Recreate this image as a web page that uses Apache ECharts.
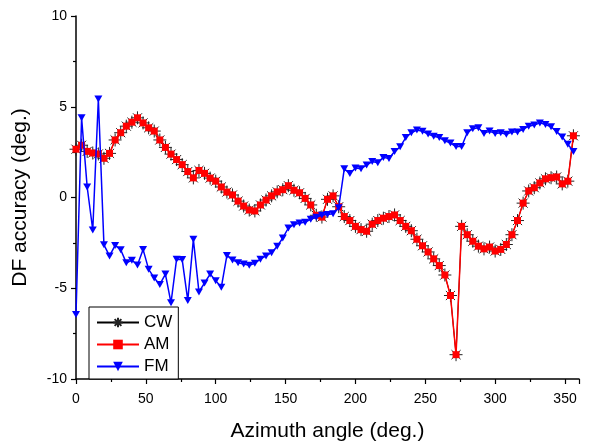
<!DOCTYPE html>
<html>
<head>
<meta charset="utf-8">
<script src="https://cdn.jsdelivr.net/npm/echarts@6/dist/echarts.min.js"></script>
<style>
html,body{margin:0;padding:0;background:#fff;}
#chart{width:589px;height:447px;}
</style>
</head>
<body>
<div id="chart"></div>
<script>
// Azimuth angles (deg.)
const angles = [];
for (let a = 0; a <= 356; a += 4) angles.push(a);

const cwValues = [
  2.66, 2.88, 2.54, 2.45, 2.40, 2.16, 2.43, 3.17, 3.57, 3.93,
  4.15, 4.39, 4.11, 3.84, 3.66, 3.17, 2.76, 2.39, 2.09, 1.81,
  1.43, 1.08, 1.49, 1.33, 1.07, 0.90, 0.58, 0.30, 0.14, -0.20,
  -0.47, -0.69, -0.74, -0.41, -0.14, 0.09, 0.31, 0.43, 0.65, 0.40,
  0.26, -0.05, -0.41, -0.98, -1.08, -0.10, 0.09, -0.51, -1.05, -1.27,
  -1.59, -1.77, -1.86, -1.47, -1.27, -1.14, -1.05, -0.96, -1.27, -1.59,
  -1.83, -2.30, -2.66, -3.00, -3.38, -3.75, -4.27, -5.40, -8.66, -1.59,
  -2.05, -2.41, -2.68, -2.83, -2.73, -2.95, -2.86, -2.59, -2.05, -1.27,
  -0.31, 0.36, 0.54, 0.80, 1.03, 1.09, 1.13, 0.75, 0.90, 3.40
];

const amValues = [
  2.66, 2.88, 2.54, 2.45, 2.40, 2.16, 2.43, 3.17, 3.57, 3.93,
  4.15, 4.39, 4.11, 3.84, 3.66, 3.17, 2.76, 2.39, 2.09, 1.81,
  1.43, 1.08, 1.49, 1.33, 1.07, 0.90, 0.58, 0.30, 0.14, -0.20,
  -0.47, -0.69, -0.74, -0.41, -0.14, 0.09, 0.31, 0.43, 0.65, 0.40,
  0.26, -0.05, -0.41, -0.98, -1.08, -0.10, 0.09, -0.51, -1.05, -1.27,
  -1.59, -1.77, -1.86, -1.47, -1.27, -1.14, -1.05, -0.96, -1.27, -1.59,
  -1.83, -2.30, -2.66, -3.00, -3.38, -3.75, -4.27, -5.40, -8.66, -1.59,
  -2.05, -2.41, -2.68, -2.83, -2.73, -2.95, -2.86, -2.59, -2.05, -1.27,
  -0.31, 0.36, 0.54, 0.80, 1.03, 1.09, 1.13, 0.75, 0.90, 3.40
];

const fmValues = [
  -6.45, 4.39, 0.58, -1.79, 5.43, -2.61, -3.22, -2.64, -2.88, -3.60,
  -3.46, -3.72, -2.86, -3.96, -4.43, -4.79, -4.22, -5.80, -3.40, -3.42,
  -5.67, -2.30, -5.20, -4.71, -4.22, -4.58, -4.95, -3.19, -3.44, -3.59,
  -3.67, -3.73, -3.62, -3.40, -3.22, -3.04, -2.68, -2.23, -1.68, -1.50,
  -1.41, -1.36, -1.20, -1.09, -0.98, -0.93, -0.90, -0.56, 1.58, 1.32,
  1.63, 1.59, 1.79, 1.98, 1.92, 2.21, 2.15, 2.53, 2.79, 3.30,
  3.57, 3.72, 3.65, 3.50, 3.37, 3.30, 3.12, 3.00, 2.81, 2.81,
  3.57, 3.79, 3.84, 3.53, 3.66, 3.52, 3.57, 3.48, 3.61, 3.61,
  3.75, 3.93, 3.99, 4.11, 4.02, 3.90, 3.63, 3.34, 2.93, 2.54
];

const seriesNames = ['CW', 'AM', 'FM'];
const xTickValues = [0, 50, 100, 150, 200, 250, 300, 350];
const yTickValues = [-10, -5, 0, 5, 10];

function pairs(vals) { return angles.map((a, i) => [a, vals[i]]); }

const FONT = 'Arial, "Liberation Sans", sans-serif';
const asterisk = 'path://M5,0L5,10M0,5L10,5M1.5,1.5L8.5,8.5M1.5,8.5L8.5,1.5';

const chart = echarts.init(document.getElementById('chart'), null, {renderer: 'canvas'});
chart.setOption({
  animation: false,
  backgroundColor: '#fff',
  grid: {left: 76, right: 10, top: 16, bottom: 63, containLabel: false},
  legend: {
    orient: 'vertical',
    left: 89, top: 307,
    data: seriesNames,
    itemWidth: 42, itemHeight: 12, itemGap: 5,
    padding: [7, 6, 4, 7],
    backgroundColor: '#fff',
    borderColor: '#000', borderWidth: 1, borderRadius: 0,
    textStyle: {fontFamily: FONT, fontSize: 17, color: '#000'}
  },
  xAxis: {
    type: 'value', min: 0, max: 360, interval: 50,
    name: 'Azimuth angle (deg.)', nameLocation: 'middle', nameGap: 42,
    nameTextStyle: {fontFamily: FONT, fontSize: 21, color: '#000'},
    axisLine: {show: true, onZero: false, lineStyle: {color: '#000', width: 1.5}},
    axisTick: {show: true, inside: false, length: 5, lineStyle: {color: '#000', width: 1.2}},
    minorTick: {show: true, splitNumber: 2, length: 3, lineStyle: {color: '#000', width: 1.2}},
    splitLine: {show: false},
    axisLabel: {fontFamily: FONT, fontSize: 14, color: '#000', margin: 13, showMaxLabel: false,
      formatter: v => (xTickValues.indexOf(v) >= 0 ? String(v) : '')}
  },
  yAxis: {
    type: 'value', min: -10, max: 10, interval: 5,
    name: 'DF accuracy (deg.)', nameLocation: 'middle', nameGap: 45, nameRotate: 90,
    nameTextStyle: {fontFamily: FONT, fontSize: 21, color: '#000'},
    axisLine: {show: true, onZero: false, lineStyle: {color: '#000', width: 1.5}},
    axisTick: {show: true, inside: false, length: 5, lineStyle: {color: '#000', width: 1.2}},
    minorTick: {show: true, splitNumber: 2, length: 3, lineStyle: {color: '#000', width: 1.2}},
    splitLine: {show: false},
    axisLabel: {fontFamily: FONT, fontSize: 14, color: '#000', margin: 9,
      formatter: v => (yTickValues.indexOf(v) >= 0 ? String(v) : '')}
  },
  series: [
    {
      name: 'CW', type: 'line', data: pairs(cwValues),
      symbol: asterisk, symbolSize: 13,
      lineStyle: {color: '#000', width: 1},
      itemStyle: {color: '#000', borderColor: '#222', borderWidth: 1},
      z: 2
    },
    {
      name: 'AM', type: 'line', data: pairs(amValues),
      symbol: 'rect', symbolSize: 7,
      lineStyle: {color: '#ff0000', width: 1.5},
      itemStyle: {color: '#ff0000'},
      z: 3
    },
    {
      name: 'FM', type: 'line', data: pairs(fmValues),
      symbol: 'triangle', symbolRotate: 180, symbolSize: [8, 7],
      lineStyle: {color: '#0000ff', width: 1.5},
      itemStyle: {color: '#0000ff'},
      z: 4
    }
  ]
});
</script>
</body>
</html>
